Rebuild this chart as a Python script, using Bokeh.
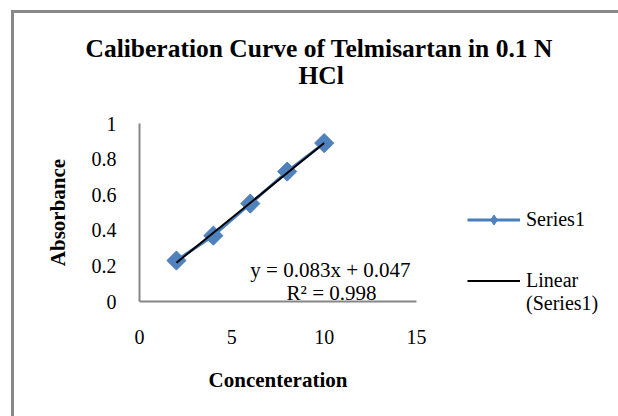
import numpy as np
from math import pi
from bokeh.plotting import figure
from bokeh.models import Range1d, FixedTicker, Label, Legend, LegendItem, Title
from bokeh.embed import file_html
from bokeh.resources import INLINE

# ---- data ----
concentration = [2, 4, 6, 8, 10]
absorbance = [0.23, 0.37, 0.55, 0.73, 0.89]
x_ticks = [0, 5, 10, 15]
x_tick_labels = ["0", "5", "10", "15"]
y_ticks = [0, 0.2, 0.4, 0.6, 0.8, 1]
y_tick_labels = ["0", "0.2", "0.4", "0.6", "0.8", "1"]
title_line1 = "Caliberation Curve of Telmisartan in 0.1 N"
title_line2 = "HCl"
x_title = "Concenteration"
y_title = "Absorbance"
series_name = "Series1"
trend_name = " \nLinear\n(Series1)"
equation_text = "y = 0.083x + 0.047"
r2_text = "R² = 0.998"

FONT = "Liberation Serif"
AXIS_GRAY = "#868686"
LINE_BLUE = "#4A7EBB"
FILL_BLUE = "#4F81BD"

p = figure(frame_width=277, frame_height=178, output_backend="svg", toolbar_location=None,
           x_range=Range1d(0, 15), y_range=Range1d(0, 1),
           min_border_left=139, min_border_right=202,
           min_border_top=123, min_border_bottom=115)
p.styles = {"box-shadow": "inset 11px 10px 0 0 white, inset 14px 13px 0 0 #888888"}
p.xgrid.visible = False
p.ygrid.visible = False
p.outline_line_color = None
p.background_fill_alpha = 0
p.border_fill_alpha = 0

for ax in (p.xaxis[0], p.yaxis[0]):
    ax.axis_line_color = AXIS_GRAY
    ax.axis_line_width = 2
    ax.major_tick_line_color = None
    ax.minor_tick_line_color = None
    ax.major_label_text_font = FONT
    ax.major_label_text_font_size = "20px"
    ax.major_label_text_color = "black"
    ax.axis_label_text_font = FONT
    ax.axis_label_text_font_size = "21px"
    ax.axis_label_text_font_style = "bold"
    ax.axis_label_text_color = "black"

p.xaxis.ticker = FixedTicker(ticks=x_ticks)
p.xaxis.major_label_overrides = dict(zip(x_ticks, x_tick_labels))
p.yaxis.ticker = FixedTicker(ticks=y_ticks)
p.yaxis.major_label_overrides = dict(zip(y_ticks, y_tick_labels))
p.xaxis.axis_label = x_title
p.yaxis.axis_label = y_title
p.xaxis.major_label_standoff = 22
p.yaxis.major_label_standoff = 17
p.xaxis.axis_label_standoff = 21
p.yaxis.axis_label_standoff = 19

# series
line_r = p.line(concentration, absorbance, line_color=LINE_BLUE, line_width=3)
scat_r = p.scatter(concentration, absorbance, marker="square", angle=pi / 4,
                   size=13.5, fill_color=FILL_BLUE, line_color=LINE_BLUE)
# legend-only marker: zero size on the plot; the legend sizes it from its glyph box
legend_marker = p.scatter(concentration, absorbance, marker="diamond", size=0,
                          fill_color=FILL_BLUE, line_color=LINE_BLUE)

# linear trendline computed from the data
slope, intercept = np.polyfit(concentration, absorbance, 1)
trend_x = [min(concentration), max(concentration)]
trend_y = [slope * xv + intercept for xv in trend_x]
trend_r = p.line(trend_x, trend_y, line_color="black", line_width=2)

legend = Legend(items=[LegendItem(label=series_name, renderers=[line_r, legend_marker]),
                       LegendItem(label=trend_name, renderers=[trend_r])],
                location=(51, -14), orientation="vertical",
                border_line_color=None, background_fill_alpha=0,
                label_text_font=FONT, label_text_font_size="20px",
                label_text_color="black", label_text_line_height=1.3,
                glyph_width=53, glyph_height=25, label_standoff=6,
                spacing=14, padding=0, margin=0)
p.add_layout(legend, "right")

# title: spacer + two centred lines (stacked outward from the frame)
spacer = Title(text=" ", text_font_size="1px", standoff=31)
t2 = Title(text=title_line2, align="left", offset=159, standoff=0, text_font=FONT,
           text_font_size="25.5px", text_font_style="bold", text_color="black")
t1 = Title(text=title_line1, align="left", offset=-54, standoff=-8, text_font=FONT,
           text_font_size="25.5px", text_font_style="bold", text_color="black")
p.add_layout(spacer, "above")
p.add_layout(t2, "above")
p.add_layout(t1, "above")

p.add_layout(Label(x=10.34, y=0.176, text=equation_text, text_align="center",
                   text_baseline="middle", text_font=FONT, text_font_size="21px",
                   text_color="black"))
p.add_layout(Label(x=10.4, y=0.048, text=r2_text, text_align="center",
                   text_baseline="middle", text_font=FONT, text_font_size="21px",
                   text_color="black"))

open("out.html", "w").write(file_html(p, INLINE))
